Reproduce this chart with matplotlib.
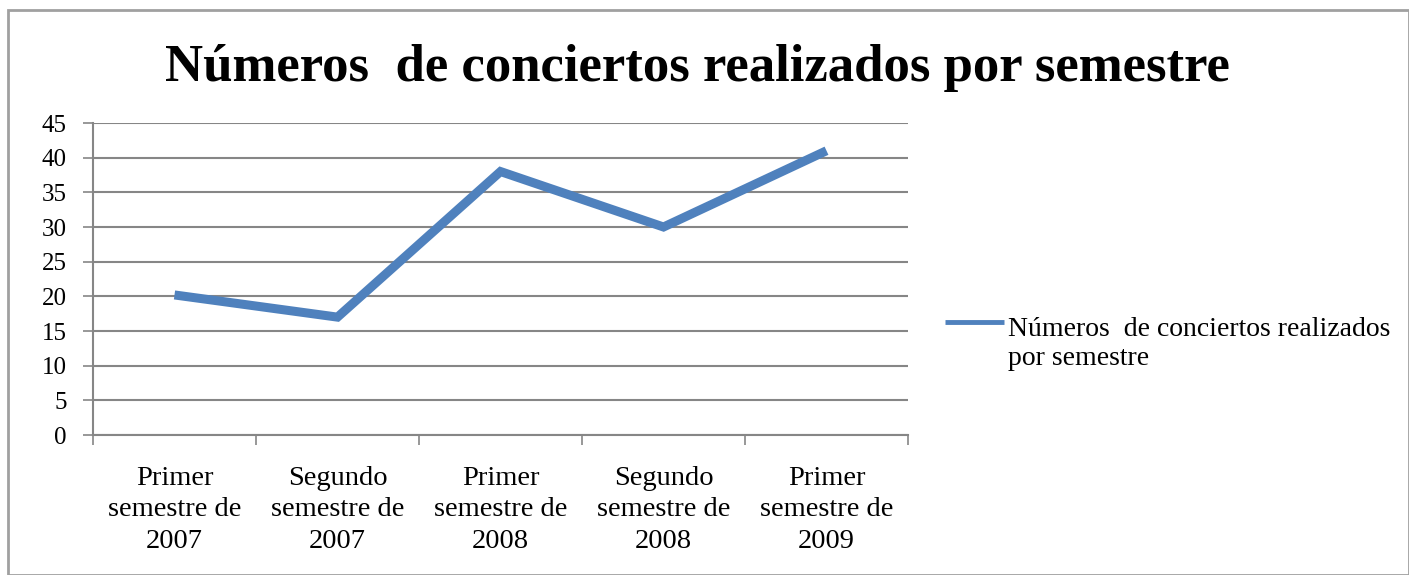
import matplotlib
matplotlib.use("Agg")
import matplotlib.pyplot as plt
from matplotlib.patches import Rectangle
from matplotlib.lines import Line2D

categories = ["Primer\nsemestre de\n2007", "Segundo\nsemestre de\n2007",
              "Primer\nsemestre de\n2008", "Segundo\nsemestre de\n2008",
              "Primer\nsemestre de\n2009"]
values = [20.2, 17, 38, 30, 41]
y_ticks = [0, 5, 10, 15, 20, 25, 30, 35, 40, 45]
title = "Números  de conciertos realizados por semestre"
series_label = "Números  de conciertos realizados\npor semestre"

plt.rcParams['font.family'] = ['Liberation Serif', 'DejaVu Serif']

fig = plt.figure(figsize=(14.09, 5.75), dpi=100)
fig.patch.set_facecolor('white')
fig.patches.append(Rectangle((8/1409, 0), 1 - 8/1409, 1 - 10/575, transform=fig.transFigure,
                             fill=False, edgecolor='#a0a0a0', linewidth=2))

ax = fig.add_axes([93/1409, 1 - 435/575, (908 - 93)/1409, (435 - 123)/575])
x = list(range(len(categories)))
color = '#4f81bd'
line, = ax.plot(x, values, color=color, linewidth=6.5, solid_joinstyle='miter',
                solid_capstyle='butt')

ax.set_xlim(-0.5, len(categories) - 0.5)
ax.set_ylim(0, 45)
ax.set_yticks(y_ticks)
ax.set_yticklabels([str(v) for v in y_ticks], fontsize=18)
ax.yaxis.grid(True, color='#868686', linewidth=1.5)
ax.set_axisbelow(True)

ax.set_xticks([i - 0.5 for i in range(len(categories) + 1)], minor=False)
ax.set_xticklabels([])
ax.set_xticks(x, minor=True)
ax.set_xticklabels(categories, minor=True, fontsize=20.5, linespacing=1.36)
ax.tick_params(axis='x', which='minor', length=0, pad=22)
ax.tick_params(axis='x', which='major', length=7, width=1.2, color='#868686', direction='out')
ax.tick_params(axis='y', length=7, width=1.2, color='#868686', pad=12)

for s in ['top', 'right']:
    ax.spines[s].set_visible(False)
for s in ['left', 'bottom']:
    ax.spines[s].set_color('#868686')
    ax.spines[s].set_linewidth(1.5)

fig.text(0.5 - 0.005, 1 - 68/575, title, ha='center', va='center', fontsize=38, fontweight='bold')

# legend
fig.add_artist(Line2D([945/1409, 1004/1409], [1 - 322/575, 1 - 322/575], transform=fig.transFigure,
                      color=color, linewidth=3.5, solid_capstyle='butt'))
fig.text(1008/1409, 1 - 344/575, series_label, ha='left', va='center', fontsize=20,
         linespacing=1.25)

fig.savefig('out.png', dpi=100, facecolor='white')
